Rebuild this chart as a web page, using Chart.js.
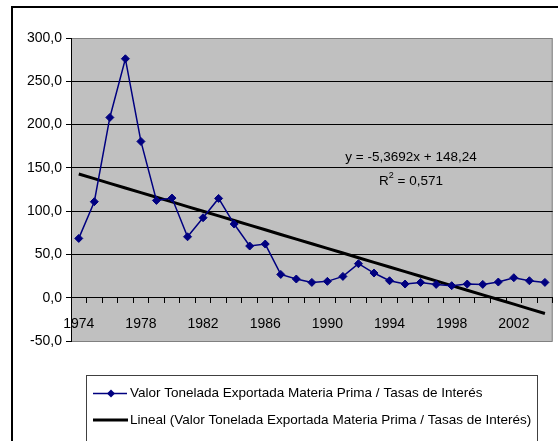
<!DOCTYPE html>
<html>
<head>
<meta charset="utf-8">
<title>Valor Tonelada Exportada Materia Prima / Tasas de Interés</title>
<script src="https://cdn.jsdelivr.net/npm/chart.js@4/dist/chart.umd.min.js"></script>
<style>
  html, body { margin: 0; padding: 0; background: #fff; }
  #wrap { position: relative; width: 558px; height: 441px; }
</style>
</head>
<body>
<div id="wrap"><canvas id="export-chart" width="558" height="441"></canvas></div>
<script>
const years = ["1974", "1975", "1976", "1977", "1978", "1979", "1980", "1981", "1982", "1983",
               "1984", "1985", "1986", "1987", "1988", "1989", "1990", "1991", "1992", "1993",
               "1994", "1995", "1996", "1997", "1998", "1999", "2000", "2001", "2002", "2003", "2004"];

const ratioValues = [68.5, 110.9, 208.2, 276.0, 180.5, 112.4, 115.1, 70.4, 92.4, 114.7,
                     85.1, 59.7, 62.0, 26.9, 21.6, 17.7, 18.9, 24.6, 39.3, 28.5,
                     19.6, 15.8, 17.7, 15.4, 13.9, 15.8, 15.4, 18.1, 23.1, 19.6, 17.7];

const yTicks = [-50, 0, 50, 100, 150, 200, 250, 300];

// linear trend as printed on the chart: y = slope * x + intercept, x = 1, 2, ...
const trendSlope = -5.3692;
const trendIntercept = 148.24;
const trendR2 = 0.571;

const seriesName = "Valor Tonelada Exportada Materia Prima / Tasas de Interés";
const trendName = "Lineal (" + seriesName + ")";

const trendValues = years.map((y, i) => trendSlope * (i + 1) + trendIntercept);

const FONT = "'Liberation Sans', Arial, sans-serif";
const NAVY = "#000080";

function comma(n) {
    return String(n).replace(".", ",");
}

// white page, black frame and the gray plot area
const backgroundPlugin = {
    id: "background",
    beforeDraw(chart) {
        const c = chart.ctx;
        const a = chart.chartArea;
        c.save();
        c.fillStyle = "#fff";
        c.fillRect(0, 0, chart.width, chart.height);

        c.strokeStyle = "#000";
        c.lineWidth = 2;
        c.strokeRect(12, 7, chart.width + 20, chart.height + 20);

        c.fillStyle = "#c0c0c0";
        c.fillRect(a.left, a.top, a.right - a.left, a.bottom - a.top);
        c.strokeStyle = "#808080";
        c.lineWidth = 1;
        c.strokeRect(a.left + 0.5, a.top + 0.5, a.right - a.left - 1, a.bottom - a.top);
        c.restore();
    }
};

// trend equation and R² written over the plot
const equationPlugin = {
    id: "equation",
    afterDatasetsDraw(chart) {
        const c = chart.ctx;
        c.save();
        c.fillStyle = "#000";
        c.textAlign = "center";
        c.textBaseline = "middle";
        c.font = "13.5px " + FONT;
        const eq = "y = " + comma(trendSlope) + "x + " + comma(trendIntercept);
        c.fillText(eq, 411, 157);

        const rest = " = " + comma(trendR2);
        const wR = c.measureText("R").width;
        c.font = "9px " + FONT;
        const w2 = c.measureText("2").width;
        c.font = "13.5px " + FONT;
        const wRest = c.measureText(rest).width;
        let x = 411 - (wR + w2 + wRest) / 2;
        c.textAlign = "left";
        c.fillText("R", x, 181);
        x += wR;
        c.font = "9px " + FONT;
        c.fillText("2", x, 176);
        x += w2;
        c.font = "13.5px " + FONT;
        c.fillText(rest, x, 181);
        c.restore();
    }
};

// boxed legend under the plot
const legendPlugin = {
    id: "boxLegend",
    afterDraw(chart) {
        const c = chart.ctx;
        const sets = chart.data.datasets;
        c.save();
        c.strokeStyle = "#404040";
        c.lineWidth = 1;
        c.strokeRect(86.5, 375.5, 451, 100);

        c.font = "13.5px " + FONT;
        c.textBaseline = "middle";
        c.textAlign = "left";

        // row 1: navy line with a diamond
        let y = 393.5;
        c.strokeStyle = NAVY;
        c.lineWidth = 1.5;
        c.beginPath();
        c.moveTo(93, y);
        c.lineTo(127, y);
        c.stroke();
        c.fillStyle = NAVY;
        c.beginPath();
        c.moveTo(111, y - 4); c.lineTo(115, y); c.lineTo(111, y + 4); c.lineTo(107, y);
        c.closePath();
        c.fill();
        c.fillStyle = "#000";
        c.fillText(sets[0].label, 130, y);

        // row 2: thick black trend line
        y = 420;
        c.strokeStyle = "#000";
        c.lineWidth = 3;
        c.beginPath();
        c.moveTo(93, y);
        c.lineTo(128, y);
        c.stroke();
        c.fillText(sets[1].label, 130, y);
        c.restore();
    }
};

const ctx = document.getElementById("export-chart");

new Chart(ctx, {
    type: "line",
    data: {
        labels: years,
        datasets: [
            {
                label: seriesName,
                data: ratioValues,
                borderColor: NAVY,
                backgroundColor: NAVY,
                borderWidth: 1.5,
                pointStyle: "rectRot",
                pointRadius: 4,
                pointBorderWidth: 1,
                tension: 0
            },
            {
                label: trendName,
                data: trendValues,
                borderColor: "#000",
                borderWidth: 3,
                pointRadius: 0,
                tension: 0
            }
        ]
    },
    options: {
        responsive: false,
        animation: false,
        layout: { padding: { left: 0, top: 38, right: 4, bottom: 100 } },
        plugins: {
            legend: { display: false },
            tooltip: { enabled: false }
        },
        scales: {
            x: {
                position: { y: 0 },
                offset: true,
                grid: { offset: true, drawOnChartArea: false, tickLength: 5, color: "#000" },
                border: { color: "#000", width: 1 },
                ticks: {
                    autoSkip: false,
                    maxRotation: 0,
                    padding: 13,
                    color: "#000",
                    font: { family: FONT, size: 14 },
                    callback: function (v, i) {
                        return i % 4 === 0 ? this.getLabelForValue(v) : "";
                    }
                }
            },
            y: {
                min: yTicks[0],
                max: yTicks[yTicks.length - 1],
                afterBuildTicks: (scale) => {
                    scale.ticks = yTicks.map((v) => ({ value: v }));
                },
                afterFit: (scale) => {
                    scale.width = 71;
                },
                grid: {
                    color: (c) => (c.tick && c.tick.value > 0 && c.tick.value < 300 ? "#000" : "rgba(0,0,0,0)"),
                    tickColor: "#000",
                    tickLength: 5
                },
                border: { color: "#000", width: 1 },
                ticks: {
                    padding: 4,
                    color: "#000",
                    font: { family: FONT, size: 14 },
                    callback: (v) => comma(Number(v).toFixed(1))
                }
            }
        }
    },
    plugins: [backgroundPlugin, equationPlugin, legendPlugin]
});
</script>
</body>
</html>
